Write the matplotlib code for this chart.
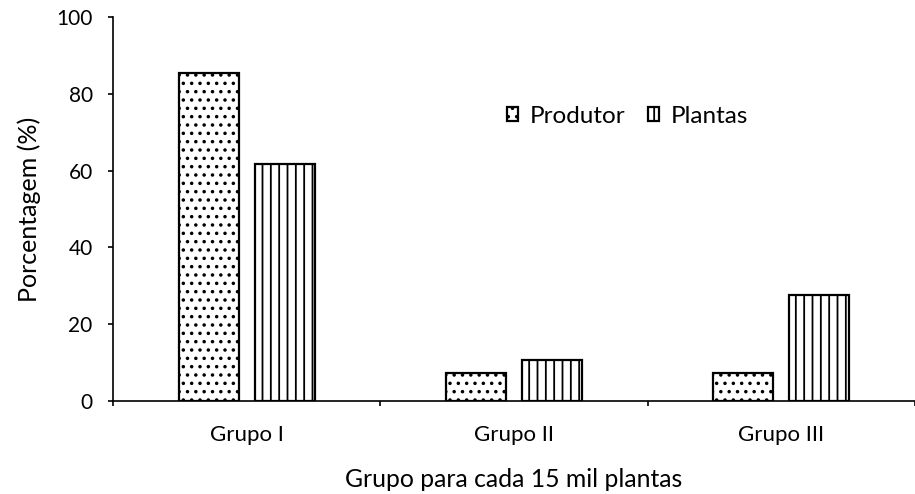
import matplotlib
matplotlib.use("Agg")
import matplotlib.pyplot as plt
import numpy as np

categories = ["Grupo I", "Grupo II", "Grupo III"]
produtor = [85.3, 7.2, 7.2]
plantas = [61.7, 10.7, 27.5]
series_names = ["Produtor", "Plantas"]

plt.rcParams['font.family'] = ['Lato', 'DejaVu Sans']
plt.rcParams['hatch.linewidth'] = 1.3

fig = plt.figure(figsize=(9.15, 4.94), dpi=100)
ax = fig.add_axes([0.1235, 0.188, 0.8765, 0.7776])

x = np.arange(len(categories))
w = 0.225
off = 0.142
ax.bar(x - off, produtor, w, color='white', edgecolor='black', linewidth=1.6, hatch='..', label=series_names[0])
ax.bar(x + off, plantas, w, color='white', edgecolor='black', linewidth=1.6, hatch='||', label=series_names[1])

ax.set_xlim(-0.5, 2.48)
ax.set_ylim(0, 100)
ax.set_yticks([0, 20, 40, 60, 80, 100])
ax.set_xticks(x)
ax.set_xticklabels(categories, fontsize=16)
ax.set_xticks([-0.5, 0.5, 1.5, 2.5], minor=True)
ax.tick_params(axis='x', which='major', length=0, pad=17)
ax.tick_params(axis='x', which='minor', length=3.6, width=1.2, direction='out')
ax.tick_params(axis='y', length=3.6, width=1.2, labelsize=15, pad=11)
for s in ['top', 'right']:
    ax.spines[s].set_visible(False)
for s in ['left', 'bottom']:
    ax.spines[s].set_linewidth(1.2)

ax.set_ylabel("Porcentagem (%)", fontsize=18, labelpad=11)
ax.set_xlabel("Grupo para cada 15 mil plantas", fontsize=17.8, labelpad=17)

ax.legend(loc='center left', bbox_to_anchor=(0.491, 0.742), ncol=2, frameon=False,
          fontsize=17.5, handlelength=0.46, handleheight=0.46, handletextpad=0.5,
          columnspacing=0.9, borderaxespad=0, borderpad=0)

fig.savefig("out.png", dpi=100)
